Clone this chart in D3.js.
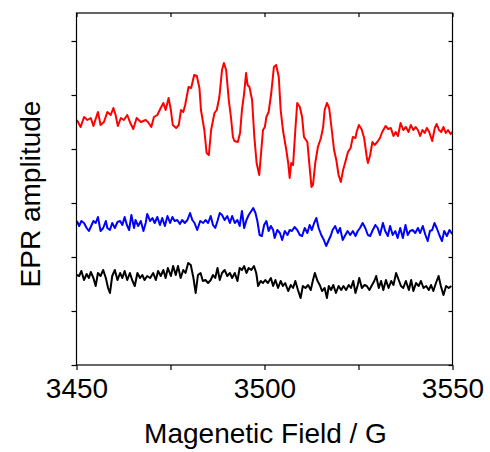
<!DOCTYPE html>
<html>
<head>
<meta charset="utf-8">
<script src="https://cdn.jsdelivr.net/npm/d3@7/dist/d3.min.js"></script>
<style>
  html, body { margin: 0; padding: 0; background: #fff; }
  svg text { font-family: "Liberation Sans", Arial, Helvetica, sans-serif; fill: #000; }
</style>
</head>
<body>
<svg id="chart" width="490" height="452"></svg>
<script>
// EPR spectra: magnetic field (G) and stacked amplitude (a.u.)
const redField = [3450.1,3451.1,3452.0,3452.9,3453.8,3454.5,3455.7,3456.4,3457.3,3458.2,3459.1,3459.8,3460.4,3461.0,3461.8,3462.6,3463.5,3464.2,3465.1,3466.0,3467.1,3468.4,3469.0,3469.9,3470.6,3471.5,3472.4,3473.1,3473.7,3474.5,3475.1,3475.6,3476.5,3477.2,3477.8,3478.4,3478.9,3479.8,3480.5,3481.3,3482.0,3482.7,3483.1,3484.0,3484.6,3485.2,3485.8,3486.7,3487.3,3488.0,3488.7,3489.2,3489.8,3490.5,3491.1,3491.6,3492.0,3492.9,3493.5,3494.0,3494.6,3495.1,3495.5,3496.0,3496.7,3497.3,3497.9,3498.6,3499.0,3499.6,3500.1,3500.5,3501.1,3501.8,3502.5,3503.1,3503.8,3504.3,3504.9,3505.8,3506.3,3506.7,3507.1,3507.6,3508.2,3508.7,3509.4,3510.0,3510.5,3511.4,3512.0,3512.5,3512.9,3513.5,3514.2,3515.0,3515.6,3516.0,3516.6,3517.2,3517.8,3518.5,3519.1,3519.7,3520.3,3520.9,3521.5,3522.2,3522.9,3523.5,3524.2,3524.5,3525.1,3525.8,3526.5,3527.2,3527.5,3528.1,3528.7,3529.3,3530.0,3530.7,3531.3,3532.2,3532.9,3533.6,3534.3,3534.9,3535.5,3536.2,3536.9,3537.6,3538.3,3538.9,3539.6,3540.2,3540.8,3541.4,3542.0,3542.6,3543.2,3543.8,3544.6,3545.3,3545.8,3546.4,3547.0,3547.6,3548.2,3548.8,3549.5,3550.0];
const redAmp = [245,238,248,245,247,239,253,240,243,253,250,257,250,239,247,245,250,243,236,247,243,245,243,238,248,250,257,262,255,267,255,240,237,240,255,253,260,278,277,290,289,277,255,235,212,210,235,252,255,268,295,302,295,265,247,228,224,223,232,255,272,292,280,278,265,228,202,190,208,235,238,248,253,272,298,300,288,255,235,215,202,187,202,200,235,262,258,248,228,223,198,178,180,202,218,227,238,255,262,257,238,215,205,190,183,195,203,213,217,228,227,233,240,236,227,208,202,210,223,220,223,227,233,239,236,237,229,233,229,242,235,238,233,240,235,238,235,229,235,232,237,233,224,237,241,235,233,238,232,235,231,233];

const blueField = [3450.1,3450.7,3451.3,3452.0,3452.7,3453.3,3453.9,3454.5,3455.1,3455.7,3456.4,3457.1,3457.8,3458.2,3458.9,3459.5,3460.2,3460.9,3461.6,3462.2,3462.8,3463.4,3464.0,3464.6,3465.3,3465.7,3466.4,3467.1,3467.8,3468.4,3468.8,3469.6,3470.2,3470.8,3471.5,3472.2,3472.8,3473.5,3474.2,3474.9,3475.5,3476.1,3476.8,3477.5,3478.1,3478.8,3479.5,3480.2,3480.8,3481.4,3482.1,3482.9,3483.7,3484.3,3485.0,3485.7,3486.3,3486.9,3487.5,3488.1,3488.7,3489.4,3490.1,3490.8,3491.4,3492.1,3492.8,3493.4,3494.0,3494.6,3495.2,3495.8,3496.5,3497.0,3497.6,3498.1,3498.7,3499.3,3499.9,3500.5,3501.1,3501.7,3502.3,3502.7,3503.4,3504.1,3504.7,3505.4,3506.1,3506.7,3507.3,3508.0,3508.7,3509.4,3510.0,3510.7,3511.4,3512.0,3512.6,3513.2,3513.8,3514.4,3515.1,3515.8,3516.4,3517.1,3517.7,3518.1,3518.8,3519.5,3520.1,3520.8,3521.5,3522.1,3522.8,3523.5,3524.2,3524.8,3525.4,3526.1,3526.8,3527.5,3528.1,3528.8,3529.5,3530.1,3530.7,3531.5,3532.1,3532.8,3533.4,3534.1,3534.8,3535.4,3536.1,3536.8,3537.5,3538.1,3538.7,3539.4,3540.1,3540.8,3541.4,3542.1,3542.8,3543.4,3544.0,3544.6,3545.2,3545.8,3546.5,3547.2,3547.8,3548.5,3549.2,3549.9];
const blueAmp = [144,139,144,142,137,134,139,144,142,148,134,137,144,137,135,142,137,143,144,140,148,140,135,150,137,145,139,144,134,142,151,144,147,142,148,140,147,139,149,142,148,144,145,141,145,142,145,152,145,142,135,144,142,145,142,149,140,137,144,152,150,145,149,142,149,142,145,139,154,137,145,150,154,157,152,144,130,129,140,144,134,139,135,127,135,132,125,134,130,135,134,138,135,130,129,137,132,140,135,142,147,137,130,125,119,125,130,135,139,132,137,125,130,134,130,134,129,134,137,142,137,130,129,135,140,137,130,142,134,129,139,130,134,127,137,127,140,130,134,135,132,137,132,139,130,124,134,135,142,137,130,124,134,129,135,131];

const blackField = [3450.1,3450.7,3451.3,3452.0,3452.7,3453.3,3453.8,3454.5,3455.1,3455.7,3456.4,3457.1,3457.8,3458.4,3458.9,3459.5,3460.2,3460.9,3461.6,3462.2,3462.8,3463.5,3464.2,3464.8,3465.5,3466.2,3466.9,3467.5,3468.1,3468.8,3469.6,3470.4,3471.1,3471.7,3472.4,3473.1,3473.7,3474.3,3475.1,3475.7,3476.4,3477.0,3477.7,3478.4,3479.0,3479.7,3480.4,3481.1,3481.7,3482.3,3483.0,3483.6,3484.3,3485.0,3485.7,3486.3,3486.9,3487.5,3488.1,3488.7,3489.4,3490.1,3490.8,3491.4,3492.1,3492.8,3493.4,3494.0,3494.6,3495.2,3495.8,3496.5,3497.2,3497.8,3498.3,3499.0,3499.6,3500.2,3500.9,3501.7,3502.3,3502.9,3503.6,3504.3,3504.9,3505.5,3506.3,3507.0,3507.6,3508.2,3508.9,3509.6,3510.2,3510.9,3511.6,3512.3,3512.9,3513.4,3514.1,3514.7,3515.3,3516.0,3516.6,3517.1,3517.7,3518.3,3519.0,3519.7,3520.4,3521.0,3521.7,3522.4,3523.0,3523.6,3524.2,3524.8,3525.2,3525.9,3526.6,3527.2,3527.9,3528.6,3529.2,3529.7,3530.4,3531.0,3531.6,3532.3,3533.0,3533.7,3534.3,3535.0,3535.7,3536.3,3536.9,3537.6,3538.4,3539.0,3539.6,3540.3,3541.0,3541.6,3542.3,3543.0,3543.7,3544.3,3544.9,3545.6,3546.3,3546.9,3547.6,3548.3,3549.0,3549.7];
const blackAmp = [90,89,94,85,91,87,93,87,79,92,89,95,87,77,72,89,95,85,92,87,94,85,92,85,79,92,87,90,85,89,87,92,85,94,89,95,87,97,89,99,90,99,87,95,92,102,100,87,72,90,92,84,85,82,85,90,87,97,85,92,95,89,92,87,92,84,97,95,99,92,97,95,99,92,79,84,82,85,82,87,79,85,77,84,79,82,74,80,77,84,75,67,79,77,80,75,85,92,84,80,74,77,67,79,75,80,72,79,75,79,75,80,77,84,72,80,87,77,80,79,75,80,84,89,77,84,75,85,77,84,80,92,85,79,77,84,75,85,74,82,79,84,77,79,75,80,74,82,89,79,70,79,77,79];

const series = [
  { field: redField, amp: redAmp, color: "#ff0000" },
  { field: blueField, amp: blueAmp, color: "#0000ff" },
  { field: blackField, amp: blackAmp, color: "#000000" }
];

const fieldTicks = [3450, 3475, 3500, 3525, 3550];
const fieldLabels = [3450, 3500, 3550];
const ampTicks = [0, 54, 108, 162, 216, 270, 324];

const svg = d3.select("#chart");
const plot = { left: 76.5, right: 452.5, top: 13, bottom: 365 };

const x = d3.scaleLinear().domain([3450, 3550]).range([plot.left, plot.right]);
const y = d3.scaleLinear().domain([0, 352]).range([plot.bottom, plot.top]);

// traces
const line = d3.line().x(d => x(d[0])).y(d => y(d[1]));
svg.append("g").selectAll("path")
  .data(series)
  .join("path")
  .attr("d", s => line(s.field.map((f, i) => [f, s.amp[i]])))
  .attr("fill", "none")
  .attr("stroke", s => s.color)
  .attr("stroke-width", 2)
  .attr("stroke-linejoin", "round");

// axes: outward ticks on bottom/left, inward mirror ticks on top/right
function styleAxis(g) {
  g.select(".domain").remove();
  g.selectAll(".tick line").attr("stroke", "#000").attr("stroke-width", 1.2);
}
const fmt = d => fieldLabels.includes(d) ? String(d) : "";

svg.append("g")
  .attr("transform", `translate(0,${plot.bottom})`)
  .call(d3.axisBottom(x).tickValues(fieldTicks).tickSize(5).tickPadding(8).tickFormat(fmt))
  .call(styleAxis)
  .call(g => g.selectAll(".tick text")
    .attr("font-size", 28)
    .attr("dy", "0.71em")
    .style("font-family", '"Liberation Sans", Arial, sans-serif'));

svg.append("g")
  .attr("transform", `translate(0,${plot.top})`)
  .call(d3.axisTop(x).tickValues(fieldTicks).tickSize(-4).tickFormat(""))
  .call(styleAxis);

svg.append("g")
  .attr("transform", `translate(${plot.left},0)`)
  .call(d3.axisLeft(y).tickValues(ampTicks).tickSize(5).tickFormat(""))
  .call(styleAxis);

svg.append("g")
  .attr("transform", `translate(${plot.right},0)`)
  .call(d3.axisRight(y).tickValues(ampTicks).tickSize(-4).tickFormat(""))
  .call(styleAxis);

// frame
svg.append("rect")
  .attr("x", plot.left).attr("y", plot.top)
  .attr("width", plot.right - plot.left).attr("height", plot.bottom - plot.top)
  .attr("fill", "none").attr("stroke", "#000").attr("stroke-width", 1.2);

// axis titles
svg.append("text")
  .attr("x", (plot.left + plot.right) / 2 + 1)
  .attr("y", 443)
  .attr("text-anchor", "middle")
  .attr("font-size", 28)
  .text("Magenetic Field / G");

svg.append("text")
  .attr("transform", `translate(40,${(plot.top + plot.bottom) / 2 + 5}) rotate(-90)`)
  .attr("text-anchor", "middle")
  .attr("font-size", 28)
  .text("EPR amplitude");
</script>
</body>
</html>
